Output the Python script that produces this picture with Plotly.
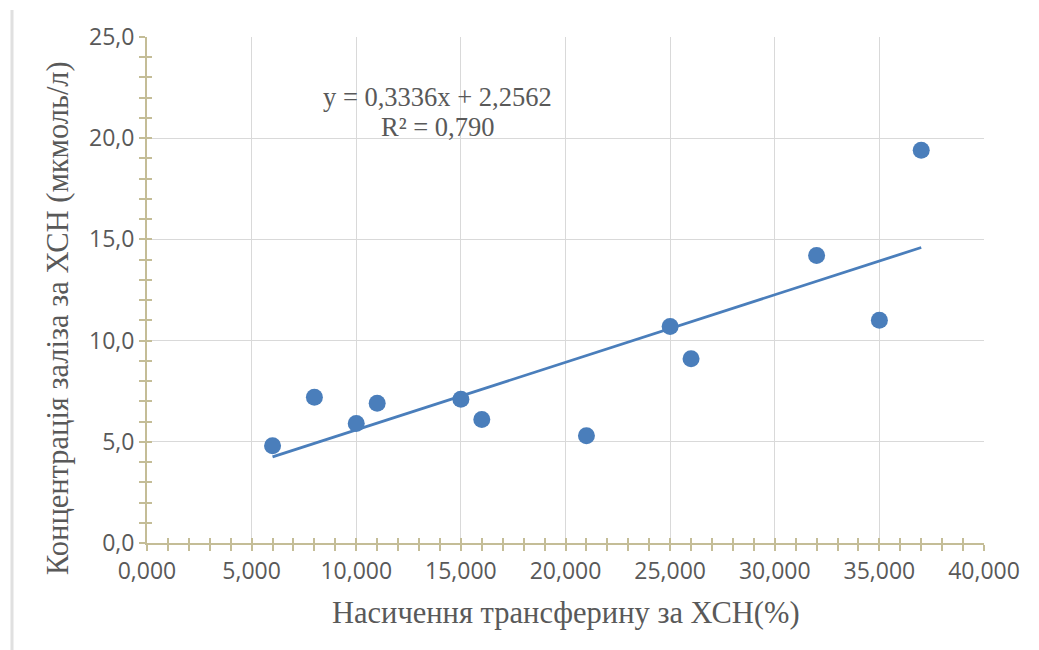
import plotly.graph_objects as go

# Data
saturation = [6, 8, 10, 11, 15, 16, 21, 25, 26, 32, 35, 37]
iron = [4.8, 7.2, 5.9, 6.9, 7.1, 6.1, 5.3, 10.7, 9.1, 14.2, 11.0, 19.4]

# Linear trendline coefficients shown on the chart
slope = 0.3336
intercept = 2.2562
r_squared = 0.790

x_ticks = [0, 5, 10, 15, 20, 25, 30, 35, 40]
y_ticks = [0, 5, 10, 15, 20, 25]

trend_x = [min(saturation), max(saturation)]
trend_y = [slope * v + intercept for v in trend_x]

AXIS_COL = "#C4BD97"
GRID_COL = "#D9D9D9"
PT_COL = "#4A7EBB"
TXT_COL = "#595959"

# page offset (browser body margin)
OFF = 8
W, H = 1039, 650
L, R, T, B = 147 - OFF, 55 + OFF, 37 - OFF, 107 + OFF
pw, ph = W - L - R, H - T - B


def px(xs):
    return (xs - OFF - L) / pw


def py(ys):
    return (H - B - (ys - OFF)) / ph


fig = go.Figure()
fig.add_trace(go.Scatter(
    x=trend_x, y=trend_y, mode="lines",
    line=dict(color=PT_COL, width=2.8), showlegend=False, hoverinfo="skip"))
fig.add_trace(go.Scatter(
    x=saturation, y=iron, mode="markers",
    marker=dict(color=PT_COL, size=17, line=dict(width=0)),
    showlegend=False))
# invisible trace to anchor the overlay axes (inside halves of crossing ticks)
fig.add_trace(go.Scatter(x=[None], y=[None], xaxis="x2", yaxis="y2",
                         showlegend=False, hoverinfo="skip"))

tick_font = dict(family="Open Sans", size=23, color=TXT_COL)

fig.update_layout(
    width=W, height=H,
    margin=dict(l=L, r=R, t=T, b=B, autoexpand=False),
    paper_bgcolor="white", plot_bgcolor="white",
    separators=",.",
    xaxis=dict(
        range=[0, 40], tickvals=x_ticks, tickformat=".3f",
        showgrid=True, gridcolor=GRID_COL, gridwidth=1,
        showline=True, linecolor=AXIS_COL, linewidth=2,
        ticks="outside", ticklen=6, tickcolor=AXIS_COL, tickwidth=1.5,
        minor=dict(dtick=1, ticks="outside", ticklen=6, tickcolor=AXIS_COL,
                   tickwidth=1.5, showgrid=False),
        tickfont=tick_font, zeroline=False, fixedrange=True,
    ),
    yaxis=dict(
        range=[0, 25], tickvals=y_ticks, tickformat=".1f",
        showgrid=True, gridcolor=GRID_COL, gridwidth=1,
        showline=True, linecolor=AXIS_COL, linewidth=2,
        ticks="outside", ticklen=6, tickcolor=AXIS_COL, tickwidth=1.5,
        minor=dict(dtick=1, ticks="outside", ticklen=6, tickcolor=AXIS_COL,
                   tickwidth=1.5, showgrid=False),
        tickfont=tick_font, zeroline=False, fixedrange=True,
    ),
    xaxis2=dict(
        overlaying="x", anchor="y2", range=[0, 40], tickvals=x_ticks,
        showticklabels=False, showgrid=False, showline=False, zeroline=False,
        ticks="inside", ticklen=5, tickcolor=AXIS_COL, tickwidth=1.5,
        minor=dict(dtick=1, ticks="inside", ticklen=5, tickcolor=AXIS_COL,
                   tickwidth=1.5, showgrid=False),
        side="bottom",
    ),
    yaxis2=dict(
        overlaying="y", anchor="x2", range=[0, 25], tickvals=y_ticks,
        showticklabels=False, showgrid=False, showline=False, zeroline=False,
        ticks="inside", ticklen=5, tickcolor=AXIS_COL, tickwidth=1.5,
        minor=dict(dtick=1, ticks="inside", ticklen=5, tickcolor=AXIS_COL,
                   tickwidth=1.5, showgrid=False),
        side="left",
    ),
)

annotations = [
    dict(text=f"y = {slope:.4f}x + {intercept:.4f}".replace(".", ","),
         x=px(437), y=py(97),
         font=dict(family="Liberation Serif", size=26.5, color=TXT_COL)),
    dict(text=f"R² = {r_squared:.3f}".replace(".", ","),
         x=px(437), y=py(127),
         font=dict(family="Liberation Serif", size=26.5, color=TXT_COL)),
    dict(text="Насичення трансферину за ХСН(%)",
         x=px(566), y=py(613),
         font=dict(family="Liberation Serif", size=30.5, color=TXT_COL)),
    dict(text="Концентрація заліза за ХСН (мкмоль/л)", textangle=-90,
         x=px(58), y=py(318),
         font=dict(family="Liberation Serif", size=30.5, color=TXT_COL)),
]
for a in annotations:
    a.update(xref="paper", yref="paper", showarrow=False,
             xanchor="center", yanchor="middle")
fig.update_layout(annotations=annotations)

# left frame line of the chart area
fig.add_shape(type="line", xref="paper", yref="paper",
              x0=px(12), x1=px(12), y0=py(660), y1=py(10),
              line=dict(color="#E0E0E0", width=3))

fig.write_html("out.html")
